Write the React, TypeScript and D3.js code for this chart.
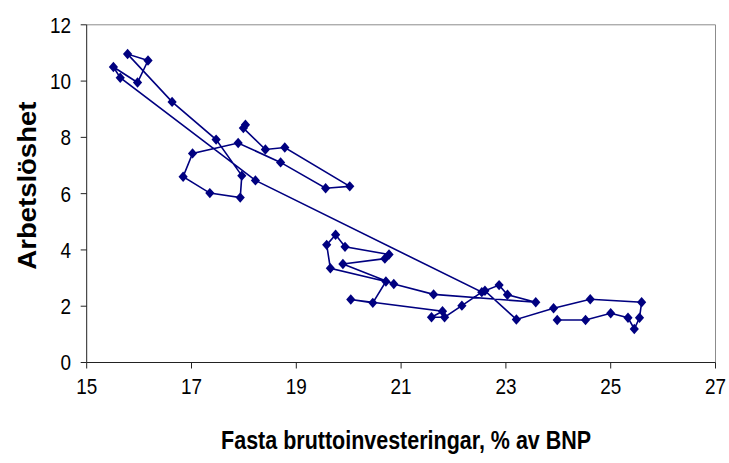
import React from "react";
import * as d3 from "d3";

// Fasta bruttoinvesteringar (% av BNP) and Arbetslöshet, in path order
const investment = [
  23.98, 24.52, 25.0, 25.33, 25.45, 25.55, 25.59, 24.61, 23.91, 23.2,
  22.6, 22.87, 23.03, 23.57, 21.62, 20.86, 19.89, 20.69, 20.77, 19.93,
  19.75, 19.58, 19.65, 20.71, 20.46, 20.04, 21.79, 21.58, 21.83, 22.16,
  22.54, 18.22, 15.64, 15.51, 15.97, 16.17, 15.78, 16.63, 17.47, 17.96,
  17.93, 17.35, 16.84, 17.02, 17.89, 18.7, 19.56, 20.02, 18.78, 18.41,
  17.99, 18.03,
];
const unemployment = [
  1.51, 1.51, 1.75, 1.59, 1.19, 1.59, 2.14, 2.25, 1.93, 1.53,
  2.55, 2.75, 2.41, 2.14, 2.42, 2.79, 3.5, 3.69, 3.84, 4.11,
  4.54, 4.18, 3.35, 2.88, 2.12, 2.24, 1.82, 1.61, 1.61, 2.02,
  2.5, 6.47, 10.12, 10.5, 9.95, 10.73, 10.96, 9.26, 7.92, 6.64,
  5.86, 6.02, 6.6, 7.43, 7.8, 7.11, 6.19, 6.26, 7.64, 7.57,
  8.33, 8.45,
];
const xTicks = [15, 17, 19, 21, 23, 25, 27];
const yTicks = [0, 2, 4, 6, 8, 10, 12];
const xTitle = "Fasta bruttoinvesteringar, % av BNP";
const yTitle = "Arbetslöshet";

export default function App() {
  const W = 729;
  const H = 463;
  const x = d3.scaleLinear().domain([15, 27]).range([86.7, 715.5]);
  const y = d3.scaleLinear().domain([0, 12]).range([362.5, 24.8]);
  const pts: [number, number][] = investment.map((v, i) => [v, unemployment[i]]);
  const line = d3
    .line<[number, number]>()
    .x((d) => x(d[0]))
    .y((d) => y(d[1]));
  const navy = "#000080";
  const x0 = x(15), x1 = x(27), y0 = y(0), y1 = y(12);
  const font = "'Liberation Sans', Arial, sans-serif";
  const diamond = "M0,-5.2L4.6,0L0,5.2L-4.6,0Z";
  const sx = 0.86;

  return (
    <div>
      <style>{"body{margin:0;background:#fff}"}</style>
      <svg width={W} height={H} style={{ display: "block", background: "#fff" }}>
        {/* plot border top/right */}
        <line x1={x0} x2={x1} y1={y1} y2={y1} stroke="#8c8c8c" strokeWidth={1} />
        <line x1={x1} x2={x1} y1={y1} y2={y0} stroke="#8c8c8c" strokeWidth={1} />
        {/* axes */}
        <line x1={x0} x2={x0} y1={y1} y2={y0} stroke="#222" strokeWidth={1} />
        <line x1={x0} x2={x1} y1={y0} y2={y0} stroke="#222" strokeWidth={1} />
        {yTicks.map((t) => (
          <g key={"y" + t}>
            <line x1={x0 - 6} x2={x0} y1={y(t)} y2={y(t)} stroke="#222" />
            <text
              transform={`translate(71, ${y(t)}) scale(${sx},1)`}
              dy="0.36em"
              textAnchor="end"
              fontFamily={font}
              fontSize={22}
              fill="#000"
            >
              {t}
            </text>
          </g>
        ))}
        {xTicks.map((t) => (
          <g key={"x" + t}>
            <line x1={x(t)} x2={x(t)} y1={y0} y2={y0 + 6} stroke="#222" />
            <text
              transform={`translate(${x(t)}, 394) scale(${sx},1)`}
              textAnchor="middle"
              fontFamily={font}
              fontSize={22}
              fill="#000"
            >
              {t}
            </text>
          </g>
        ))}
        <text
          transform={`translate(${(x0 + x1) / 2 + 5}, 449) scale(${sx},1)`}
          textAnchor="middle"
          fontFamily={font}
          fontSize={25}
          fontWeight="bold"
          fill="#000"
        >
          {xTitle}
        </text>
        <text
          transform={`translate(36, ${(y0 + y1) / 2 - 8}) rotate(-90) scale(1.1,1)`}
          textAnchor="middle"
          fontFamily={font}
          fontSize={25}
          fontWeight="bold"
          fill="#000"
        >
          {yTitle}
        </text>
        <path d={line(pts) || ""} fill="none" stroke={navy} strokeWidth={1.6} />
        {pts.map((d, i) => (
          <path
            key={i}
            d={diamond}
            transform={`translate(${x(d[0])},${y(d[1])})`}
            fill={navy}
          />
        ))}
      </svg>
    </div>
  );
}
